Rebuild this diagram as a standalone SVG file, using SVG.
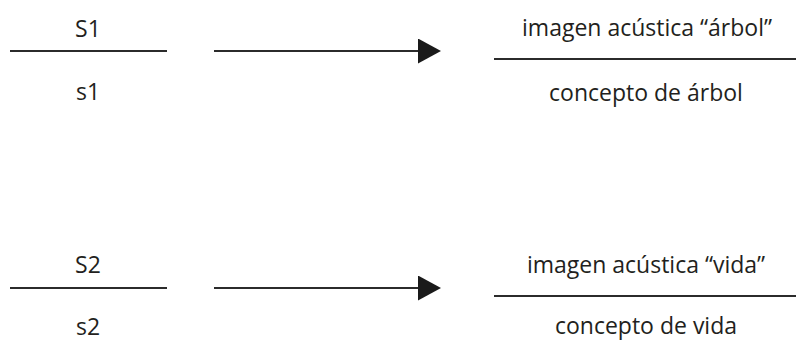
<svg xmlns="http://www.w3.org/2000/svg" width="796" height="341" viewBox="0 0 796 341">
  <style>
    text { font-family: "Open Sans", "Noto Sans", "Liberation Sans", sans-serif; font-size: 23px; fill: #231f20; text-anchor: middle; }
    .bar { stroke: #2b2b2b; stroke-width: 2.2; fill: none; }
    .conn { stroke: #2b2b2b; stroke-width: 2.2; fill: none; marker-end: url(#head); }
  </style>
  <defs>
    <marker id="head" markerUnits="userSpaceOnUse" markerWidth="24" markerHeight="26" refX="0" refY="12.5" orient="auto">
      <path d="M0,0 L23,12.5 L0,25 Z" fill="#1a1a1a"/>
    </marker>
  </defs>
  <rect width="796" height="341" fill="#ffffff"/>

  <g id="sign1">
    <text x="88" y="37">S1</text>
    <line class="bar" x1="10" y1="51" x2="167" y2="51"/>
    <text x="88" y="100">s1</text>
  </g>
  <g id="arbol">
    <text x="647" y="36">imagen acústica “árbol”</text>
    <line class="bar" x1="494" y1="59" x2="796" y2="59"/>
    <text x="646" y="101">concepto de árbol</text>
  </g>
  <g id="sign2">
    <text x="88" y="273">S2</text>
    <line class="bar" x1="10" y1="288" x2="167" y2="288"/>
    <text x="88" y="335">s2</text>
  </g>
  <g id="vida">
    <text x="646" y="273">imagen acústica “vida”</text>
    <line class="bar" x1="494" y1="296" x2="796" y2="296"/>
    <text x="646" y="334">concepto de vida</text>
  </g>

  <g id="connectors">
    <line class="conn" x1="214" y1="51" x2="418" y2="51"/>
    <line class="conn" x1="214" y1="288" x2="418" y2="288"/>
  </g>
</svg>
